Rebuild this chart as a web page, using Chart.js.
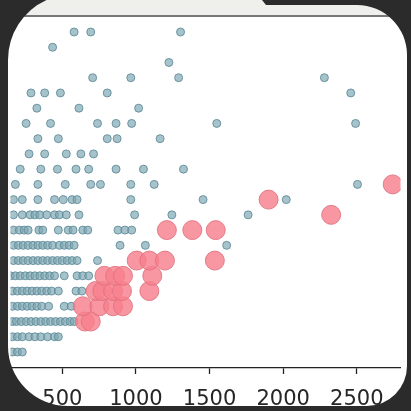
<!DOCTYPE html>
<html>
<head>
<meta charset="utf-8">
<script src="https://cdn.jsdelivr.net/npm/chart.js@4/dist/chart.umd.min.js"></script>
<style>
  html, body { margin: 0; padding: 0; background: #2b2b2b; }
  #wrap { width: 411px; height: 411px; }
</style>
</head>
<body>
<div id="wrap"><canvas id="chart" width="411" height="411"></canvas></div>
<script>
// x ticks shown on the bottom axis
const xTicks = [500, 1000, 1500, 2000, 2500];

// small grey-blue points (x value, row level)
const grayX = [
  161, 195, 228,
  161, 195, 228, 274, 314, 354, 400, 447, 473,
  161, 188, 221, 254, 287, 320, 354, 387, 420, 454, 487, 520, 553, 580,
  161, 195, 228, 261, 294, 327, 360, 407, 513, 560,
  161, 195, 228, 261, 294, 327, 360, 394, 427, 473, 593, 633,
  148, 181, 214, 248, 281, 314, 347, 380, 414, 447, 513, 600, 639, 679,
  168, 201, 234, 268, 301, 334, 367, 400, 434, 467, 500, 533, 566, 600, 739,
  168, 201, 234, 268, 301, 334, 367, 400, 434, 480, 513, 546, 580, 892, 1064, 1616,
  168, 208, 241, 268, 341, 367, 473, 540, 573, 639, 673, 878, 925, 971,
  168, 228, 281, 314, 347, 394, 447, 480, 527, 613, 991, 1244, 1762,
  168, 228, 334, 447, 507, 566, 600, 965, 1456, 2021,
  181, 334, 520, 693, 759, 965, 1124, 2505,
  214, 354, 467, 593, 679, 865, 1051, 1323,
  274, 380, 527, 626, 712,
  334, 473, 805, 872, 1164,
  254, 420, 739, 865, 971, 1549, 2492,
  327, 613, 1018,
  287, 380, 487, 805, 2459,
  706, 965, 1290, 2280,
  1224,
  434,
  580, 693, 1303
];
const grayRowCounts = [3, 9, 14, 10, 12, 14, 15, 16, 14, 13, 10, 8, 8, 5, 5, 7, 3, 5, 4, 1, 1, 3];

// large pink points
const pinkX = [653, 693, 639, 752, 845, 912, 726, 772, 845, 905, 1091,
               786, 859, 912, 1111, 1005, 1091, 1197, 1536, 1210, 1383, 1542,
               2326, 1901, 2744];
const pinkY = [3, 3, 4, 4, 4, 4, 5, 5, 5, 5, 5,
               6, 6, 6, 6, 7, 7, 7, 7, 9, 9, 9,
               10, 11, 12];

const grayY = [];
grayRowCounts.forEach((n, i) => { for (let k = 0; k < n; k++) grayY.push(i + 1); });

const grayPts = grayX.map((x, i) => ({ x, y: grayY[i] }));
const pinkPts = pinkX.map((x, i) => ({ x, y: pinkY[i] }));

// white card behind, dark rounded frame + grey strip on top
const framePlugin = {
  id: "frame",
  beforeDraw(chart) {
    const c = chart.ctx;
    c.save();
    c.fillStyle = "#ffffff";
    c.fillRect(0, 0, 411, 411);
    c.restore();
  },
  afterDraw(chart) {
    const c = chart.ctx;
    c.save();
    c.fillStyle = "#efefeb";
    c.fillRect(0, 0, 411, 15);
    c.strokeStyle = "#4a4a4a";
    c.lineWidth = 1.6;
    c.beginPath();
    c.moveTo(0, 16);
    c.lineTo(411, 16);
    c.stroke();

    c.fillStyle = "#2b2b2b";
    c.beginPath();
    c.rect(0, 0, 411, 411);
    c.moveTo(46.5, 0);
    c.lineTo(262, 0);
    c.lineTo(266, 5);
    c.lineTo(357, 5);
    c.arc(357, 55, 50, -Math.PI / 2, 0);
    c.lineTo(407, 366);
    c.arc(367, 366, 40, 0, Math.PI / 2);
    c.lineTo(68, 406);
    c.arc(68, 346, 60, Math.PI / 2, Math.PI);
    c.lineTo(8, 60);
    c.arc(74, 60, 66, Math.PI, Math.PI + Math.asin(60 / 66));
    c.closePath();
    c.fill("evenodd");
    c.restore();
  }
};

new Chart(document.getElementById("chart"), {
  type: "scatter",
  data: {
    datasets: [
      {
        data: pinkPts,
        order: 0,
        pointRadius: 9.5,
        backgroundColor: "rgba(246,128,140,0.82)",
        borderColor: "rgba(222,112,124,0.85)",
        borderWidth: 1
      },
      {
        data: grayPts,
        order: 1,
        pointRadius: 4,
        backgroundColor: "rgba(128,168,180,0.7)",
        borderColor: "rgba(92,138,152,0.85)",
        borderWidth: 1
      }
    ]
  },
  options: {
    responsive: false,
    animation: false,
    events: [],
    layout: { padding: { left: 8, right: 4, top: 16, bottom: 0 } },
    plugins: { legend: { display: false }, tooltip: { enabled: false } },
    scales: {
      x: {
        type: "linear",
        min: 148,
        max: 2797,
        afterBuildTicks: axis => { axis.ticks = xTicks.map(v => ({ value: v })); },
        afterFit: scale => { scale.height = 43; },
        border: { display: true, color: "#222", width: 1.3 },
        grid: { drawOnChartArea: false, drawTicks: true, tickLength: 6, tickWidth: 1.3, tickColor: "#222" },
        ticks: {
          color: "#262626",
          padding: 13,
          maxRotation: 0,
          autoSkip: false,
          callback: v => String(v),
          font: { family: "DejaVu Sans", size: 21 }
        }
      },
      y: {
        display: false,
        min: -0.05,
        max: 23.05
      }
    }
  },
  plugins: [framePlugin]
});
</script>
</body>
</html>
